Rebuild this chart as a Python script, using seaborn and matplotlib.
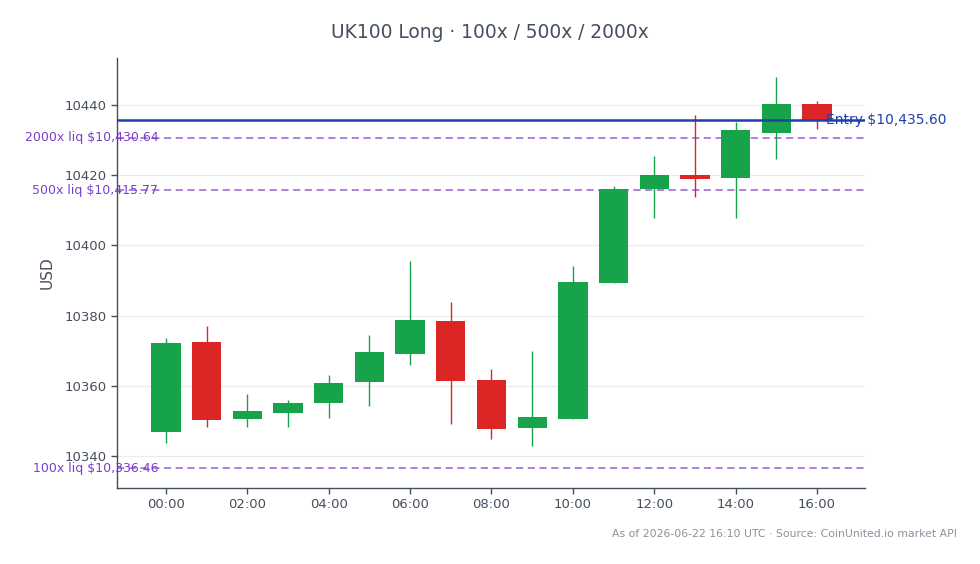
import matplotlib
matplotlib.use("Agg")
import matplotlib.pyplot as plt
import matplotlib.transforms as mtransforms
import numpy as np
import seaborn as sns

# hourly candles, UK100
hours = list(range(17))
opens = [10346.8, 10372.5, 10350.6, 10352.4, 10355.2, 10361.2, 10369.2, 10378.5, 10361.7,
         10348.1, 10350.6, 10389.4, 10416.0, 10420.1, 10419.3, 10432.1, 10440.3]
closes = [10372.2, 10350.3, 10352.8, 10355.1, 10360.8, 10369.6, 10378.7, 10361.5, 10347.8,
          10351.1, 10389.6, 10416.1, 10420.1, 10419.0, 10432.9, 10440.3, 10435.6]
highs = [10373.6, 10377.0, 10357.7, 10356.0, 10363.2, 10374.5, 10395.6, 10384.0, 10364.9,
         10370.0, 10394.2, 10416.9, 10425.5, 10437.2, 10435.2, 10448.0, 10441.1]
lows = [10343.7, 10348.3, 10348.4, 10348.4, 10350.7, 10354.4, 10365.8, 10349.0, 10345.0,
        10342.8, 10350.6, 10389.4, 10407.8, 10413.9, 10407.8, 10424.6, 10433.2]

entry_price = 10435.60
liq_labels = ["100x", "500x", "2000x"]
liq_prices = [10336.46, 10415.77, 10430.64]

tick_hours = [0, 2, 4, 6, 8, 10, 12, 14, 16]
tick_labels = ["00:00", "02:00", "04:00", "06:00", "08:00", "10:00", "12:00", "14:00", "16:00"]

GREEN = "#16a34a"
RED = "#dc2626"
PURPLE = "#9a5fd6"
BLUE = "#1e40af"
TEXT = "#444f5e"

sns.set_theme(style="white")
plt.rcParams["font.family"] = ["DejaVu Sans"]

fig = plt.figure(figsize=(9.8, 5.64), dpi=100)
ax = fig.add_axes([117 / 980, 1 - 488 / 564, (865 - 117) / 980, (488 - 58) / 564])

o = np.array(opens)
c = np.array(closes)
colors = [GREEN if cc >= oo else RED for oo, cc in zip(o, c)]

ax.vlines(hours, lows, highs, colors=colors, linewidth=1, zorder=3)
ax.bar(hours, np.abs(c - o), bottom=np.minimum(o, c), width=0.72, color=colors,
       linewidth=0, zorder=4)

# liquidation levels
trans = mtransforms.blended_transform_factory(ax.transAxes, ax.transData)
for lab, p in zip(liq_labels, liq_prices):
    ax.axhline(p, color=PURPLE, linestyle=(0, (4, 2.5)), linewidth=1.3, alpha=0.85, zorder=2)
    ax.text(0.055, p, f"{lab} liq ${p:,.2f}", transform=trans, ha="right", va="center",
            color="#7b3fd0", fontsize=9, zorder=5, clip_on=False)

# entry
ax.axhline(entry_price, color=BLUE, linewidth=1.8, zorder=5)
ax.text(16.22, entry_price, f"Entry ${entry_price:,.2f}", ha="left", va="center",
        color=BLUE, fontsize=10, zorder=6, clip_on=False)

ax.set_xlim(-1.204, 17.18)
ax.set_ylim(10330.9, 10453.4)
ax.set_xticks(tick_hours)
ax.set_xticklabels(tick_labels)
ax.set_yticks([10340, 10360, 10380, 10400, 10420, 10440])
ax.yaxis.grid(True, color="#ebebeb", linewidth=0.8)
ax.xaxis.grid(False)
ax.set_axisbelow(True)

ax.tick_params(axis="both", colors=TEXT, labelsize=9.5, length=4, width=1,
               bottom=True, left=True)
for lbl in ax.get_xticklabels() + ax.get_yticklabels():
    lbl.set_color(TEXT)
ax.set_ylabel("USD", color=TEXT, fontsize=11, labelpad=7)

sns.despine(ax=ax)
for side in ["left", "bottom"]:
    ax.spines[side].set_color(TEXT)
    ax.spines[side].set_linewidth(1)

fig.suptitle("UK100 Long · 100x / 500x / 2000x", y=1 - 32 / 564, va="center",
             fontsize=13.4, color=TEXT)
fig.text(957 / 980, 1 - 534 / 564, "As of 2026-06-22 16:10 UTC · Source: CoinUnited.io market API",
         ha="right", va="center", fontsize=7.8, color="#8a929c")

fig.savefig("out.png", dpi=100)
